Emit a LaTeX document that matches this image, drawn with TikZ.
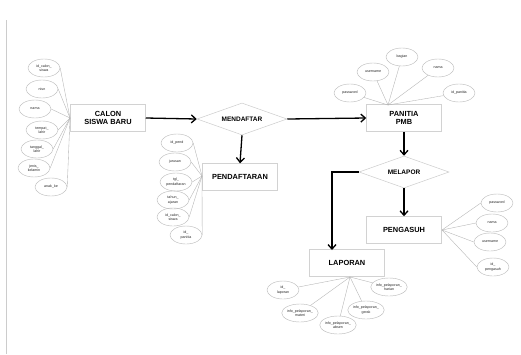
\documentclass[tikz,border=0pt]{standalone}
\usepackage{fontspec}
\setmainfont{Liberation Sans}
\usetikzlibrary{shapes.geometric,arrows.meta}
\tikzset{
  attr/.style={ellipse,draw=gray!55,line width=0.4pt,inner sep=0pt,minimum width=32pt,minimum height=18pt,align=center,font=\fontsize{3.6}{4.2}\selectfont,text=gray!30!black},
  ent/.style={rectangle,draw=gray!35,line width=0.5pt,minimum width=75pt,minimum height=27pt,align=center,font=\bfseries\fontsize{7.4}{7.8}\selectfont},
  rel/.style={diamond,draw=gray!40,line width=0.5pt,aspect=2.8,inner sep=0pt,minimum width=90pt,minimum height=32pt,font=\bfseries\fontsize{6.5}{7}\selectfont},
  link/.style={draw=gray!60,line width=0.35pt},
  flow/.style={draw=black,line width=1.3pt},
  flowa/.style={flow,-{Straight Barb[length=4.5pt,width=8pt,line width=1.3pt]}},
}
\begin{document}
\begin{tikzpicture}[x=1pt,y=-1pt]
\useasboundingbox (0,0) rectangle (521,354);
\fill[white] (0,0) rectangle (521,354);
\draw[gray!40,line width=0.5pt] (6,20) -- (6,354);
% entities
\node[ent] (calon) at (108,118) {CALON\\SISWA BARU};
\node[ent] (pend) at (240,177) {PENDAFTARAN};
\node[ent] (pan) at (404,118) {PANITIA\\PMB};
\node[ent] (peng) at (404,230) {PENGASUH};
\node[ent] (lap) at (347,263) {LAPORAN};
% relations
\node[rel] (mdf) at (242,119) {MENDAFTAR};
\node[rel] (mlp) at (404,172) {MELAPOR};
% flows
\draw[flowa] (calon.east) -- (mdf.west);
\draw[flowa] (mdf.east) -- (pan.west);
\draw[flowa] (mdf.south) -- (pend.north);
\draw[flowa] (pan.south) -- (mlp.north);
\draw[flowa] (mlp.south) -- (peng.north);
\coordinate (bend) at (332,172);
\coordinate (lapin) at (332,250);
\draw[flowa] (mlp.west) -- (bend) -- (lapin);
% calon attributes
\coordinate (cj) at (70,118);
\node[attr] (c1) at (44,68) {id\_calon\_\\siswa};
\node[attr] (c2) at (42,89) {nisn};
\node[attr] (c3) at (35,109) {nama};
\node[attr] (c4) at (42,130) {tempat\_\\lahir};
\node[attr] (c5) at (37,149) {tanggal\_\\lahir};
\node[attr] (c6) at (34,168) {jenis\_\\kelamin};
\node[attr] (c7) at (51,187) {anak\_ke};
\foreach \a in {c1,c2,c3,c4,c5,c6,c7} \draw[link] (\a.east) -- (cj);
% pendaftaran attributes
\coordinate (pj) at (202,176);
\node[attr] (p1) at (177,143) {id\_pend};
\node[attr] (p2) at (175,162) {jurusan};
\node[attr] (p3) at (176,182) {tgl\_\\pendaftaran};
\node[attr] (p4) at (173,200) {tahun\_\\ajaran};
\node[attr] (p5) at (173,217) {id\_calon\_\\siswa};
\node[attr] (p6) at (186,235) {id\_\\panitia};
\foreach \a in {p1,p2,p3,p4,p5,p6} \draw[link] (\a.east) -- (pj);
% panitia attributes
\coordinate (nj) at (388,105);
\node[attr] (n1) at (350,93) {password};
\node[attr] (n2) at (373,72) {username};
\node[attr] (n3) at (402,57) {bagian};
\node[attr] (n4) at (438,68) {nama};
\node[attr] (n5) at (459,93) {id\_panitia};
\foreach \a in {n1,n2,n3,n4,n5} \draw[link] (\a) -- (nj);
% pengasuh attributes
\coordinate (gj) at (442,230);
\node[attr] (g1) at (497,203) {password};
\node[attr] (g2) at (492,223) {nama};
\node[attr] (g3) at (490,242) {username};
\node[attr] (g4) at (493,267) {id\_\\pengasuh};
\foreach \a in {g1,g2,g3,g4} \draw[link] (\a.west) -- (gj);
% laporan attributes
\coordinate (lj) at (350,277);
\node[attr] (l1) at (283,290) {id\_\\laporan};
\node[attr] (l2) at (300,313) {info\_pelaporan\_\\materi};
\node[attr] (l3) at (338,325) {info\_pelaporan\_\\absen};
\node[attr] (l4) at (366,310) {info\_pelaporan\_\\gerak};
\node[attr] (l5) at (389,287) {info\_pelaporan\_\\harian};
\foreach \a in {l1,l2,l3,l4,l5} \draw[link] (\a) -- (lj);
\end{tikzpicture}
\end{document}
